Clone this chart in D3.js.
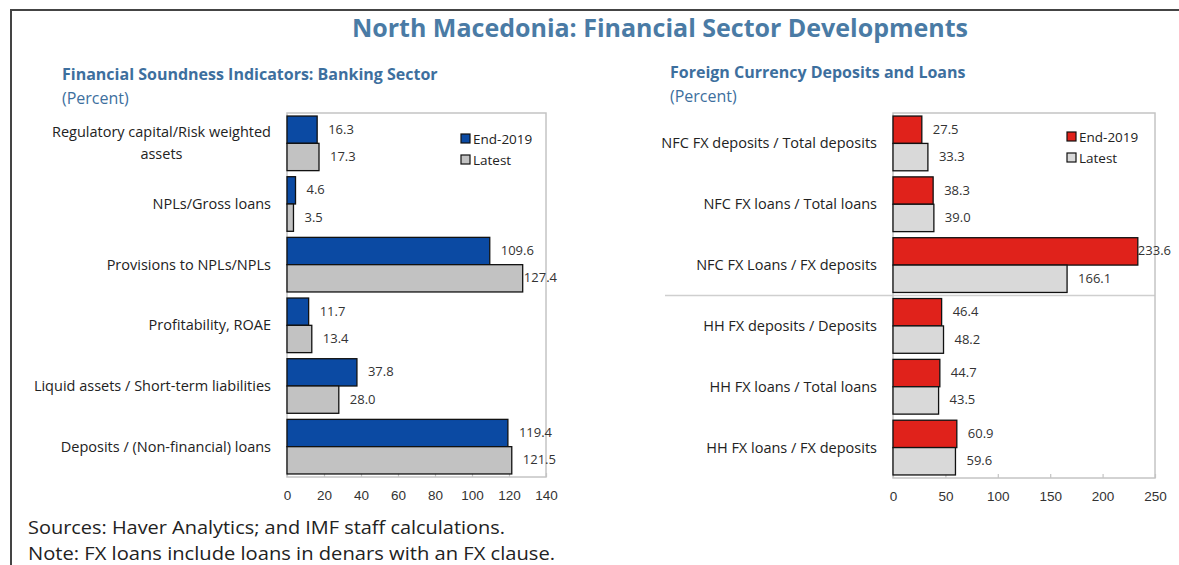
<!DOCTYPE html>
<html>
<head>
<meta charset="utf-8">
<script src="https://cdn.jsdelivr.net/npm/d3@7"></script>
<style>
  body { margin: 0; background: #fff; }
  svg { display: block; font-family: "Open Sans", "Noto Sans", sans-serif; }
  .frame { fill: none; stroke: #c4c4c4; stroke-width: 1.5; }
  .cat { font-size: 14.5px; fill: #222; }
  .val { font-size: 13px; fill: #333; }
  .tick-lbl { font-size: 13.5px; fill: #333; }
  .leg { font-size: 13.5px; fill: #222; }
</style>
</head>
<body>
<svg id="chart" width="1179" height="565"></svg>
<script>
// left panel data
var fsiCategories = ["Regulatory capital/Risk weighted|assets", "NPLs/Gross loans", "Provisions to NPLs/NPLs",
  "Profitability, ROAE", "Liquid assets / Short-term liabilities", "Deposits / (Non-financial) loans"];
var fsiEnd2019 = [16.3, 4.6, 109.6, 11.7, 37.8, 119.4];
var fsiLatest = [17.3, 3.5, 127.4, 13.4, 28.0, 121.5];
var fsiTicks = [0, 20, 40, 60, 80, 100, 120, 140];

// right panel data
var fxCategories = ["NFC FX deposits / Total deposits", "NFC FX loans / Total loans", "NFC FX Loans / FX deposits",
  "HH FX deposits / Deposits", "HH FX loans / Total loans", "HH FX loans / FX deposits"];
var fxEnd2019 = [27.5, 38.3, 233.6, 46.4, 44.7, 60.9];
var fxLatest = [33.3, 39.0, 166.1, 48.2, 43.5, 59.6];
var fxTicks = [0, 50, 100, 150, 200, 250];

var seriesNames = ["End-2019", "Latest"];

var svg = d3.select("#chart");
var fmt = d3.format(".1f");

// outer frame (top and left edges only)
svg.append("path")
    .attr("d", "M11,565 V10 H1179")
    .attr("fill", "none")
    .attr("stroke", "#444")
    .attr("stroke-width", 2);

svg.append("text")
    .attr("x", 660).attr("y", 37)
    .attr("text-anchor", "middle")
    .style("font-size", "25px").style("font-weight", "bold")
    .attr("fill", "#4a7ba5")
    .text("North Macedonia: Financial Sector Developments");

function drawPanel(o) {
  var g = svg.append("g");

  g.append("text").attr("x", o.titleX).attr("y", o.titleY)
      .style("font-size", "16px").style("font-weight", "bold").attr("fill", "#3d6f9e")
      .text(o.title);
  g.append("text").attr("x", o.titleX).attr("y", o.titleY + 24)
      .style("font-size", "16px").attr("fill", "#3d6f9e")
      .text("(Percent)");

  var x = d3.scaleLinear().domain(o.domain).range([o.left, o.right]);
  var y = d3.scaleBand().domain(d3.range(o.cats.length)).range([o.top, o.bottom]).paddingInner(0.1).paddingOuter(0.05);
  var sub = d3.scaleBand().domain([0, 1]).range([0, y.bandwidth()]);

  // separator lines
  (o.separators || []).forEach(function(s) {
    var yy = y(s) - y.step() * y.paddingInner() / 2;
    g.append("line").attr("x1", o.sepX).attr("x2", o.right).attr("y1", yy).attr("y2", yy)
        .attr("stroke", "#cfcfcf").attr("stroke-width", 1.5);
  });

  // frame
  g.append("rect").attr("class", "frame")
      .attr("x", o.left).attr("y", o.top)
      .attr("width", o.right - o.left).attr("height", o.bottom - o.top);

  // inward ticks on bottom axis
  var axis = g.append("g").attr("transform", "translate(0," + o.bottom + ")")
      .call(d3.axisBottom(x).tickValues(o.ticks).tickSize(-4).tickPadding(13));
  axis.select(".domain").remove();
  axis.selectAll("line").attr("stroke", "#c4c4c4").attr("stroke-width", 1.2);
  axis.selectAll("text").attr("class", "tick-lbl").attr("font-size", null).attr("font-family", null);

  var series = [o.a, o.b];
  series.forEach(function(vals, si) {
    var rows = g.append("g").selectAll("g").data(vals).enter().append("g");
    rows.append("rect")
        .attr("x", x(0))
        .attr("y", function(d, i) { return y(i) + sub(si); })
        .attr("width", function(d) { return x(d) - x(0); })
        .attr("height", sub.bandwidth())
        .attr("fill", o.colors[si])
        .attr("stroke", "#111").attr("stroke-width", 1.3);
    rows.append("text").attr("class", "val")
        .attr("y", function(d, i) { return y(i) + sub(si) + sub.bandwidth() / 2 + 4; })
        .text(function(d) { return fmt(d); })
        .attr("x", function(d) {
          // keep labels inside the chart area like Excel does
          var w = this.getComputedTextLength();
          return Math.min(x(d) + o.labelGap, o.labelMax - w);
        });
  });

  // category labels
  o.cats.forEach(function(c, i) {
    var lines = c.split("|");
    var cy = y(i) + y.bandwidth() / 2;
    var t = g.append("text").attr("class", "cat").attr("text-anchor", "end")
        .attr("x", o.catX).attr("y", cy + 5 - (lines.length - 1) * 11).text(lines[0]);
    if (lines.length > 1) {
      var w = t.node().getComputedTextLength();
      g.append("text").attr("class", "cat").attr("text-anchor", "middle")
          .attr("x", o.catX - w / 2).attr("y", cy + 5 + 11).text(lines[1]);
    }
  });

  // legend
  seriesNames.forEach(function(n, i) {
    var ly = o.legY + i * 21;
    g.append("rect").attr("x", o.legX).attr("y", ly - 10).attr("width", 9).attr("height", 9)
        .attr("fill", o.colors[i]).attr("stroke", "#111").attr("stroke-width", 1.2);
    g.append("text").attr("class", "leg").attr("x", o.legX + 12).attr("y", ly).text(n);
  });
}

drawPanel({
  title: "Financial Soundness Indicators: Banking Sector", titleX: 62, titleY: 80,
  cats: fsiCategories, a: fsiEnd2019, b: fsiLatest, domain: [0, 140], ticks: fsiTicks,
  left: 287, right: 546, top: 113, bottom: 477, catX: 271, labelGap: 11, labelMax: 557,
  colors: ["#0b4aa3", "#c2c2c2"], legX: 461, legY: 144
});

drawPanel({
  title: "Foreign Currency Deposits and Loans", titleX: 670, titleY: 78,
  cats: fxCategories, a: fxEnd2019, b: fxLatest, domain: [0, 250], ticks: fxTicks,
  left: 893, right: 1155, top: 113, bottom: 478, catX: 877, labelGap: 11, labelMax: 1171,
  colors: ["#e0221b", "#d9d9d9"], legX: 1067, legY: 142,
  separators: [3], sepX: 665
});

svg.append("text").attr("x", 28).attr("y", 534)
    .style("font-size", "18.5px").attr("fill", "#222")
    .attr("textLength", 477).attr("lengthAdjust", "spacingAndGlyphs")
    .text("Sources: Haver Analytics; and IMF staff calculations.");
svg.append("text").attr("x", 28).attr("y", 560)
    .style("font-size", "18.5px").attr("fill", "#222")
    .attr("textLength", 527).attr("lengthAdjust", "spacingAndGlyphs")
    .text("Note: FX loans include loans in denars with an FX clause.");
</script>
</body>
</html>
